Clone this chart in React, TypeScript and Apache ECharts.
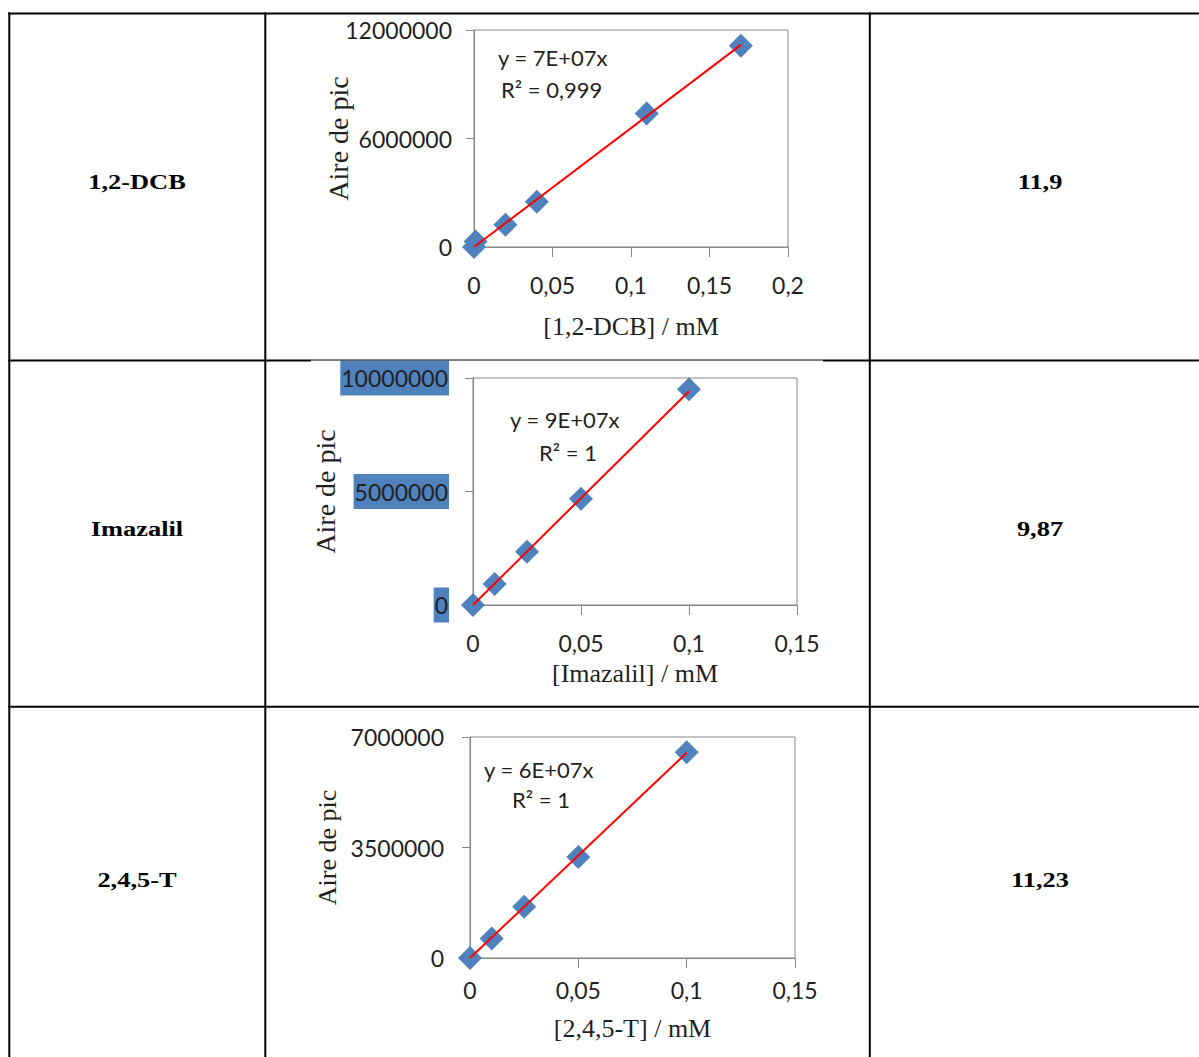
import React, { useEffect, useRef } from "react";
import * as echarts from "echarts";

// ---- data ----
const rowNames = ["1,2-DCB", "Imazalil", "2,4,5-T"];
const rowValues = ["11,9", "9,87", "11,23"];
const xTitles = ["[1,2-DCB] / mM", "[Imazalil] / mM", "[2,4,5-T] / mM"];
const yTitle = "Aire de pic";
const equations = ["y = 7E+07x", "y = 9E+07x", "y = 6E+07x"];
const r2Texts = ["R² = 0,999", "R² = 1", "R² = 1"];

const dcbX = [0, 0.001, 0.02, 0.04, 0.11, 0.17];
const dcbY = [0, 300000, 1230000, 2500000, 7380000, 11130000];
const dcbTrendX = [0, 0.17];
const dcbTrendY = [0, 11180000];

const imaX = [0, 0.01, 0.025, 0.05, 0.1];
const imaY = [0, 930000, 2350000, 4680000, 9500000];
const imaTrendX = [0, 0.1];
const imaTrendY = [0, 9420000];

const tX = [0, 0.01, 0.025, 0.05, 0.1];
const tY = [0, 620000, 1620000, 3200000, 6520000];
const tTrendX = [0, 0.1];
const tTrendY = [0, 6500000];

const xMaxes = [0.2, 0.15, 0.15];
const yMaxes = [12000000, 10000000, 7000000];
const yIntervals = [6000000, 5000000, 3500000];

const seriesX = [dcbX, imaX, tX];
const seriesY = [dcbY, imaY, tY];
const trendX = [dcbTrendX, imaTrendX, tTrendX];
const trendY = [dcbTrendY, imaTrendY, tTrendY];

// ---- layout ----
const grids = [
  { left: 474, top: 30, width: 314, height: 217 },
  { left: 473, top: 378, width: 324, height: 227 },
  { left: 470, top: 737, width: 325, height: 221 },
];
const yNameGaps = [122, 134, 130];
const yNameSizes = [28, 28, 26];
const xNameGaps = [66, 55, 57];
const xLabelMargins = [26, 26, 20];
const yLabelMargins = [22, 24, 26];
const eqPos = [
  { x: 498, y: 57, rx: 501, ry: 89 },
  { x: 510, y: 419, rx: 539, ry: 452 },
  { x: 484, y: 769, rx: 512, ry: 799 },
];
const rowCenters = [181, 528, 879];

const GRAY = "#868686";
const TXT = "#1f1f1f";
const SANS = "Lato, 'Open Sans', sans-serif";
const SERIF = "'Liberation Serif', 'DejaVu Serif', serif";

function fmtX(v: number) {
  return String(Number(v.toFixed(4))).replace(".", ",");
}

export default function App() {
  const ref = useRef<HTMLDivElement>(null);
  useEffect(() => {
    if (!ref.current) return;
    const chart = echarts.init(ref.current, null, { renderer: "svg" });

    const xAxis: any[] = [];
    const yAxis: any[] = [];
    const series: any[] = [];
    for (let i = 0; i < 3; i++) {
      xAxis.push({
        type: "value",
        gridIndex: i,
        min: 0,
        max: xMaxes[i],
        interval: 0.05,
        name: xTitles[i],
        nameLocation: "middle",
        nameGap: xNameGaps[i],
        nameMoveOverlap: false,
        nameTextStyle: { fontFamily: SERIF, fontSize: 26, color: TXT },
        axisLine: { show: true, onZero: false, lineStyle: { color: GRAY, width: 1 } },
        axisTick: { show: true, length: 10, lineStyle: { color: GRAY } },
        axisLabel: {
          margin: xLabelMargins[i],
          fontFamily: SANS,
          fontSize: 23,
          color: TXT,
          formatter: (v: number) => fmtX(v),
        },
        splitLine: { show: false },
      });
      const yLabel: any = {
        margin: yLabelMargins[i],
        fontFamily: SANS,
        fontSize: 23,
        color: TXT,
        formatter: (v: number) => String(Math.round(v)),
      };
      if (i === 1) {
        yLabel.backgroundColor = "#4f81bd";
        yLabel.padding = [6, 1, 6, 1];
      }
      yAxis.push({
        type: "value",
        gridIndex: i,
        min: 0,
        max: yMaxes[i],
        interval: yIntervals[i],
        name: yTitle,
        nameLocation: "middle",
        nameRotate: 90,
        nameGap: yNameGaps[i],
        nameMoveOverlap: false,
        nameTextStyle: { fontFamily: SERIF, fontSize: yNameSizes[i], color: TXT },
        axisLine: { show: true, onZero: false, lineStyle: { color: GRAY, width: 1 } },
        axisTick: { show: true, length: 8, lineStyle: { color: GRAY } },
        axisLabel: yLabel,
        splitLine: { show: false },
      });
      series.push({
        type: "scatter",
        xAxisIndex: i,
        yAxisIndex: i,
        symbol: "diamond",
        symbolSize: 24,
        itemStyle: { color: "#4f81bd", opacity: 1 },
        data: seriesX[i].map((x, k) => [x, seriesY[i][k]]),
        z: 2,
      });
      series.push({
        type: "line",
        xAxisIndex: i,
        yAxisIndex: i,
        showSymbol: false,
        symbol: "none",
        lineStyle: { color: "#ff0000", width: 2 },
        data: trendX[i].map((x, k) => [x, trendY[i][k]]),
        z: 3,
      });
    }

    const lineEl = (x1: number, y1: number, x2: number, y2: number, w = 2) => ({
      type: "line",
      shape: { x1, y1, x2, y2 },
      style: { stroke: "#000", lineWidth: w },
      z: 10,
    });

    const graphic: any[] = [
      lineEl(8, 13.5, 1199, 13.5),
      lineEl(9.3, 12.5, 9.3, 1057),
      lineEl(265.3, 12.5, 265.3, 1057),
      lineEl(869.8, 12.5, 869.8, 1057),
      lineEl(8, 360.5, 311, 360.5),
      lineEl(311, 360, 823, 360, 1),
      lineEl(823, 360.5, 1199, 360.5),
      lineEl(8, 706.7, 1199, 706.7),
    ];
    for (let i = 0; i < 3; i++) {
      graphic.push({
        type: "text",
        x: 137,
        y: rowCenters[i],
        scaleX: 1.2,
        style: {
          text: rowNames[i],
          font: `bold 22px ${SERIF}`,
          fill: "#000",
          align: "center",
          verticalAlign: "middle",
        },
      });
      graphic.push({
        type: "text",
        x: 1040,
        y: rowCenters[i],
        scaleX: 1.2,
        style: {
          text: rowValues[i],
          font: `bold 22px ${SERIF}`,
          fill: "#000",
          align: "center",
          verticalAlign: "middle",
        },
      });
      graphic.push({
        type: "text",
        x: eqPos[i].x,
        y: eqPos[i].y,
        style: {
          text: equations[i],
          font: `22px ${SANS}`,
          fill: TXT,
          align: "left",
          verticalAlign: "middle",
        },
        z: 20,
      });
      graphic.push({
        type: "text",
        x: eqPos[i].rx,
        y: eqPos[i].ry,
        style: {
          text: r2Texts[i],
          font: `22px ${SANS}`,
          fill: TXT,
          align: "left",
          verticalAlign: "middle",
        },
        z: 20,
      });
    }

    chart.setOption({
      animation: false,
      backgroundColor: "#ffffff",
      grid: grids.map((g) => ({
        ...g,
        show: true,
        borderColor: GRAY,
        borderWidth: 1,
        backgroundColor: "transparent",
        containLabel: false,
      })),
      xAxis,
      yAxis,
      series,
      graphic,
    });
    return () => chart.dispose();
  }, []);
  return (
    <div
      ref={ref}
      style={{ position: "absolute", left: 0, top: 0, width: 1199, height: 1057 }}
    />
  );
}
